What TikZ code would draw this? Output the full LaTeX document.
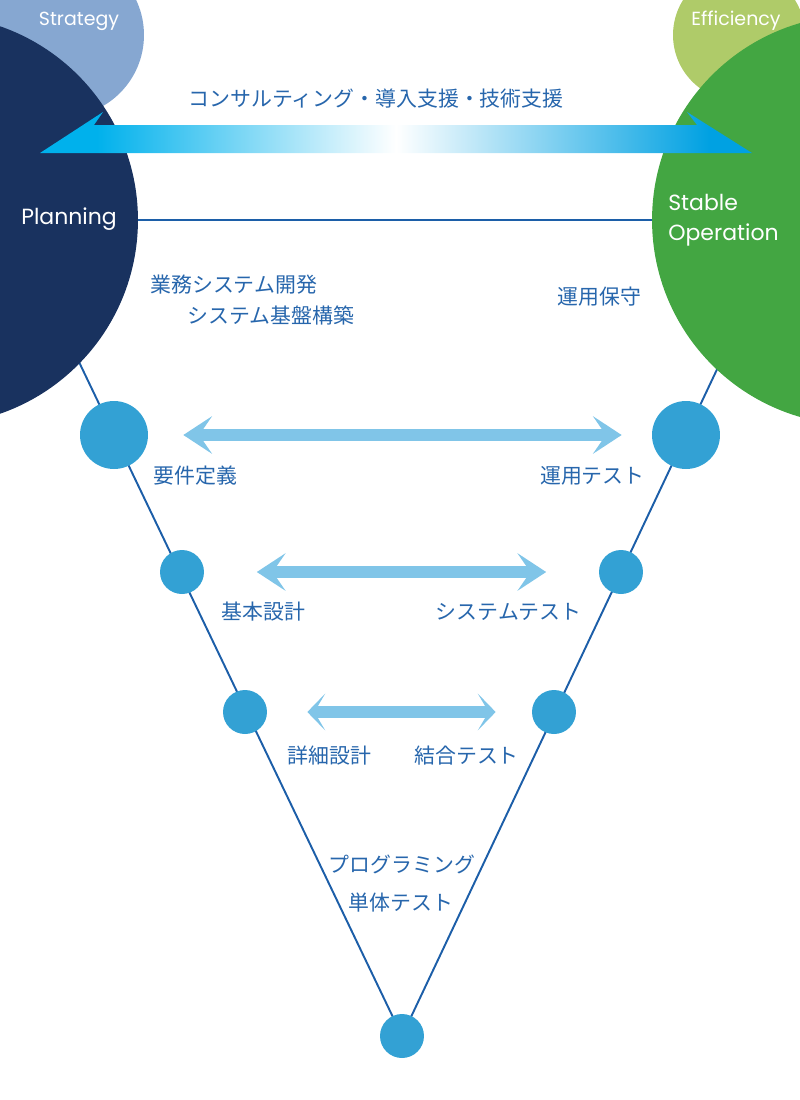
\documentclass[tikz,border=0pt]{standalone}
\usepackage{fontspec}
\newfontfamily\jpfont{Noto Sans CJK JP}
\newfontfamily\enfont{Poppins}
\usetikzlibrary{arrows.meta,calc,backgrounds}
\definecolor{StrFill}{HTML}{86A7D1}
\definecolor{PlnFill}{HTML}{19325F}
\definecolor{EffFill}{HTML}{AFCB69}
\definecolor{StbFill}{HTML}{43A642}
\definecolor{PhsFill}{HTML}{33A1D4}
\definecolor{PairBlue}{HTML}{80C5E8}
\definecolor{ConCyanL}{HTML}{00B1EC}
\definecolor{ConCyanR}{HTML}{00A1E2}
\definecolor{TxtBlue}{HTML}{2766AC}
\definecolor{LinBlue}{HTML}{1C5EA8}
\pgfdeclarehorizontalshading{consult}{100bp}{color(0bp)=(ConCyanL); color(29bp)=(ConCyanL);
  color(50bp)=(white); color(72bp)=(ConCyanR); color(100bp)=(ConCyanR)}
\tikzset{
  disc/.style={circle, inner sep=0pt, draw=none},
  zone/.style={disc, fill=#1},
  phs/.style={disc, fill=PhsFill, minimum size=0.88cm},
  phsL/.style={phs, minimum size=1.36cm},
  vee/.style={line width=1.1pt, draw=LinBlue},
  jp/.style={font=\jpfont\fontsize{11.9pt}{14pt}\selectfont, text=TxtBlue, inner sep=0pt},
  en/.style={font=\enfont\fontsize{#1}{17pt}\selectfont, text=white, inner sep=0pt, align=left},
  en/.default=12.5pt,
  pair/.style={arrows={Stealth[length=16.4pt,width=21.5pt,inset=7.4pt,line width=0pt]-Stealth[length=16.4pt,width=21.5pt,inset=7.4pt,line width=0pt]},
               line width=6.6pt, draw=PairBlue},
  pairS/.style={pair, arrows={Stealth[length=10.2pt,width=21pt,inset=6.2pt,line width=0pt]-Stealth[length=10.2pt,width=21pt,inset=6.2pt,line width=0pt]}},
}

\begin{document}
\begin{tikzpicture}[x=0.02cm, y=-0.02cm]
\useasboundingbox (0,0) rectangle (800,1100);
\clip (0,0) rectangle (800,1100);

% ---------------- corner zones ----------------
\node[zone=StrFill, minimum size=3.28cm] (strat) at (62,35) {};
\node[zone=EffFill, minimum size=2.64cm] (effi) at (739,35) {};
\node[zone=PlnFill, minimum size=8.2cm] (plan) at (-67,220) {};
\node[zone=StbFill, minimum size=8.2cm] (stab) at (857,220) {};

\node[en=10.8pt] (stratT) at (79,21) {Strategy};
\node[en=10.8pt] (effiT) at (736,21) {Efficiency};
\node[en] (planT) at (69,219) {Planning};
\node[en, anchor=west] (stabT) at (668,220) {Stable\\Operation};

% ---------------- consulting band ----------------
\node[jp] (consT) at (376,99) {コンサルティング・導入支援・技術支援};
\coordinate (conL) at (40,153);
\coordinate (conR) at (752,153);
\shade[shading=consult] (conL) -- ++(63,-41) -- ++(-9,13) -- ($(conR)+(-55,-28)$)
  -- ++(-10,-13) -- (conR) -- cycle;

\draw[vee] (plan) -- (stab);

\node[jp, anchor=west] (devT) at (150,285) {業務システム開発};
\node[jp, anchor=west] (infT) at (187,315) {システム基盤構築};
\node[jp, anchor=west] (mntT) at (557,297) {運用保守};

% ---------------- V model phases ----------------
\node[phsL] (req) at (114,435) {};
\node[phsL] (ops) at (686,435) {};
\node[phs] (bas) at (182,572) {};
\node[phs] (sys) at (621,572) {};
\node[phs] (det) at (245,712) {};
\node[phs] (itg) at (554,712) {};
\node[phs] (unit) at (402,1036) {};

\begin{scope}[on background layer]
  \draw[vee] ($(unit.center)!1.125!(req.center)$) -- (unit.center);
  \draw[vee] ($(unit.center)!1.11!(ops.center)$) -- (unit.center);
\end{scope}

\node[jp, anchor=west] (reqT) at (153,476) {要件定義};
\node[jp, anchor=east] (opsT) at (645,476) {運用テスト};
\node[jp, anchor=west] (basT) at (221,612) {基本設計};
\node[jp, anchor=east] (sysT) at (582,612) {システムテスト};
\node[jp, anchor=west] (detT) at (287,756) {詳細設計};
\node[jp, anchor=west] (itgT) at (414,756) {結合テスト};
\node[jp] (prgT) at (402,864) {プログラミング};
\node[jp] (untT) at (401,903) {単体テスト};

% paired phases
\draw[pair, shorten <=0.7cm, shorten >=0.6cm] (req) -- (ops);
\draw[pair, shorten <=1.05cm, shorten >=1.05cm] (bas) -- (sys);
\draw[pairS, shorten <=0.8cm, shorten >=0.72cm] (det) -- (itg);

\end{tikzpicture}
\end{document}
